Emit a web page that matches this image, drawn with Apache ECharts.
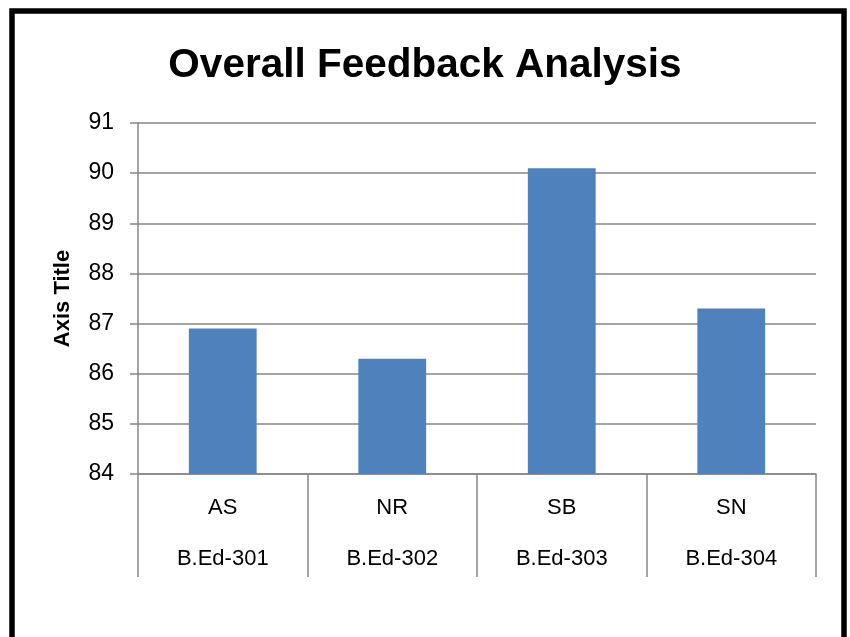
<!DOCTYPE html>
<html>
<head>
<meta charset="utf-8">
<script src="https://cdn.jsdelivr.net/npm/echarts@6/dist/echarts.min.js"></script>
<style>
html,body{margin:0;padding:0;background:#fff;}
#chart{width:850px;height:637px;}
</style>
</head>
<body>
<div id="chart"></div>
<script>
const titleText = 'Overall Feedback Analysis';
const yAxisTitle = 'Axis Title';
const teachers = ['AS', 'NR', 'SB', 'SN'];
const courses = ['B.Ed-301', 'B.Ed-302', 'B.Ed-303', 'B.Ed-304'];
const scores = [86.9, 86.3, 90.1, 87.3];
const yMin = 84, yMax = 91, yStep = 1;

const chart = echarts.init(document.getElementById('chart'), null, {renderer: 'canvas'});
const fontFam = '"Liberation Sans", Arial, sans-serif';
const grey = '#868686';
chart.setOption({
  animation: false,
  backgroundColor: '#fff',
  title: {
    text: titleText,
    left: 'center',
    top: 40,
    textStyle: {fontFamily: fontFam, fontWeight: 'bold', fontSize: 40.5, color: '#000'}
  },
  graphic: [{
    type: 'rect',
    shape: {x: 12, y: 11, width: 832, height: 640},
    style: {fill: 'none', stroke: '#000', lineWidth: 5.5},
    silent: true
  }],
  grid: {left: 138, right: 34, top: 123, bottom: 163, containLabel: false},
  xAxis: [{
    type: 'category',
    data: teachers,
    position: 'bottom',
    axisLine: {show: true, lineStyle: {color: grey, width: 1.5}},
    axisTick: {show: true, length: 103, lineStyle: {color: grey, width: 1.5}},
    axisLabel: {margin: 23, fontFamily: fontFam, fontSize: 22, color: '#000'}
  }, {
    type: 'category',
    data: courses,
    position: 'bottom',
    axisLine: {show: false},
    axisTick: {show: false},
    axisLabel: {margin: 74, fontFamily: fontFam, fontSize: 22, color: '#000'}
  }],
  yAxis: {
    type: 'value',
    min: yMin, max: yMax, interval: yStep,
    name: yAxisTitle,
    nameLocation: 'middle',
    nameGap: 64,
    nameRotate: 90,
    nameTextStyle: {fontFamily: fontFam, fontWeight: 'bold', fontSize: 22, color: '#000'},
    axisLine: {show: true, lineStyle: {color: grey, width: 1.5}},
    axisTick: {show: true, length: 8, lineStyle: {color: grey, width: 1.5}},
    axisLabel: {margin: 24, fontFamily: fontFam, fontSize: 23, color: '#000'},
    splitLine: {show: true, lineStyle: {color: grey, width: 1.5}}
  },
  series: [{
    type: 'bar',
    data: scores,
    xAxisIndex: 0,
    barWidth: '40%',
    itemStyle: {color: '#4F81BD'}
  }]
});
</script>
</body>
</html>
